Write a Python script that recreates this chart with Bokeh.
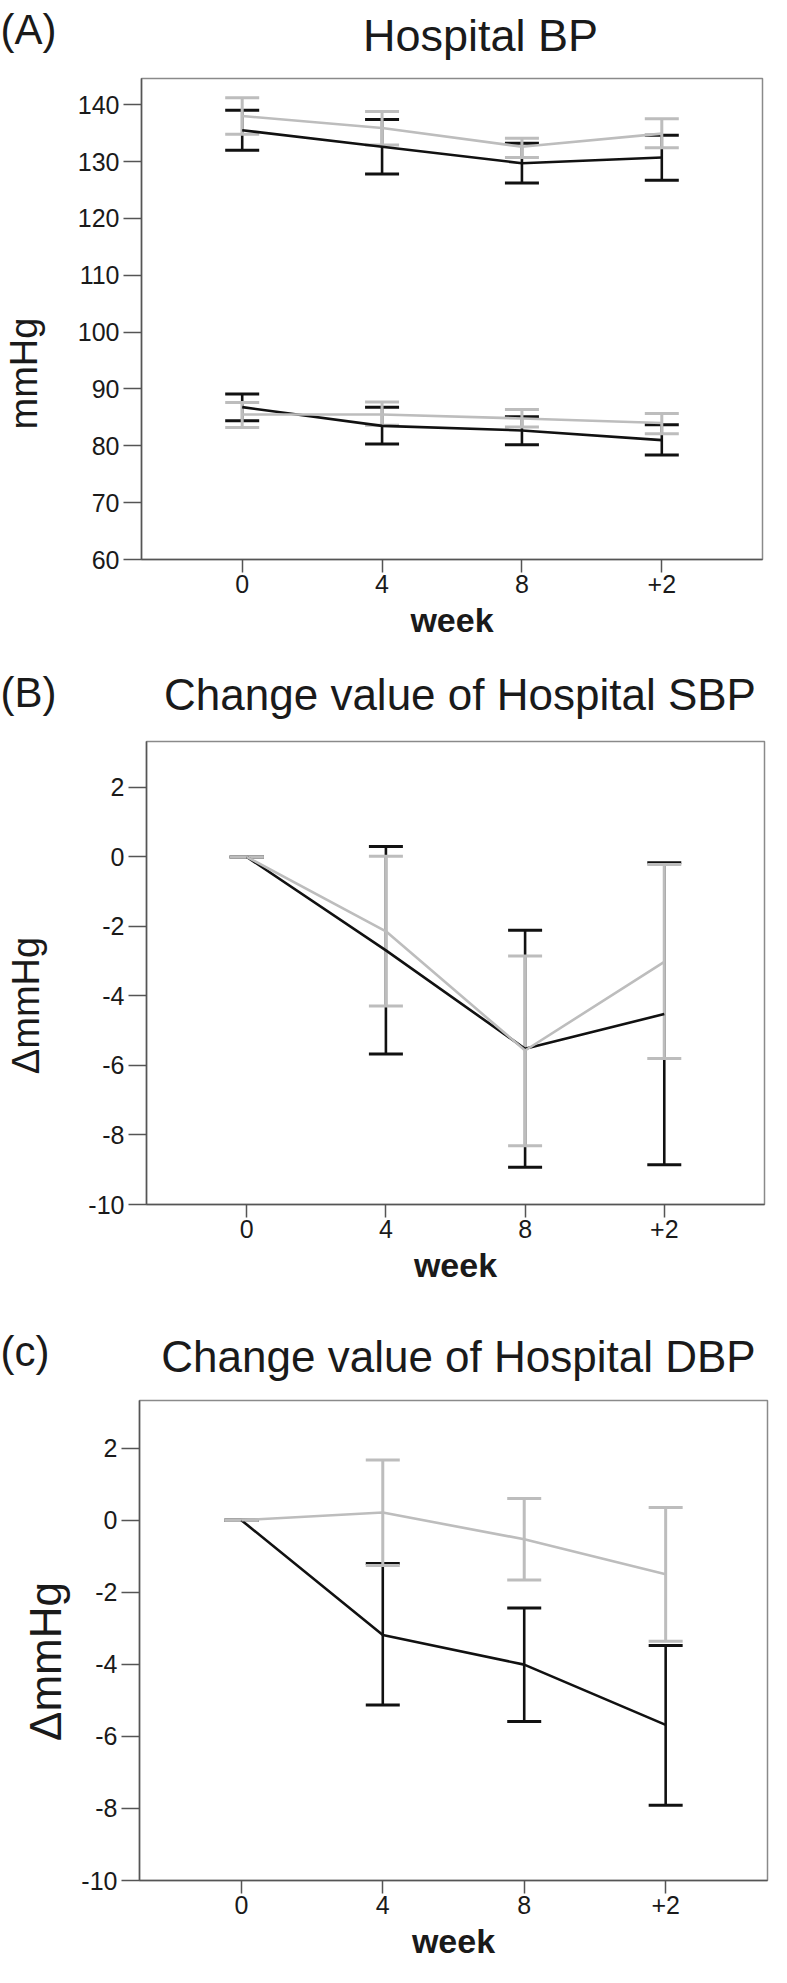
import math
from bokeh.plotting import figure
from bokeh.models import Range1d, FixedTicker, Whisker, TeeHead, ColumnDataSource
from bokeh.layouts import column, row
from bokeh.core.properties import value
from bokeh.embed import file_html
from bokeh.resources import INLINE

# ---------------- data ----------------
weeks = ["0", "4", "8", "+2"]

# Panel A: Hospital BP (SBP upper pair, DBP lower pair)
a_sbp_black_mean = [135.5, 132.6, 129.7, 130.7]
a_sbp_black_lo = [132.0, 127.8, 126.2, 126.7]
a_sbp_black_hi = [139.0, 137.4, 133.2, 134.6]
a_sbp_gray_mean = [138.0, 135.9, 132.6, 134.9]
a_sbp_gray_lo = [134.8, 132.9, 130.7, 132.4]
a_sbp_gray_hi = [141.2, 138.8, 134.1, 137.5]

a_dbp_black_mean = [86.8, 83.5, 82.7, 81.0]
a_dbp_black_lo = [84.4, 80.3, 80.2, 78.4]
a_dbp_black_hi = [89.1, 86.8, 85.1, 83.7]
a_dbp_gray_mean = [85.5, 85.5, 84.8, 84.0]
a_dbp_gray_lo = [83.2, 83.6, 83.3, 82.1]
a_dbp_gray_hi = [87.6, 87.7, 86.4, 85.7]

# Panel B: change of SBP
b_black_mean = [0.0, -2.69, -5.52, -4.52]
b_black_lo = [0.0, -5.67, -8.93, -8.86]
b_black_hi = [0.0, 0.30, -2.11, -0.17]
b_gray_mean = [0.0, -2.14, -5.57, -3.02]
b_gray_lo = [0.0, -4.29, -8.31, -5.80]
b_gray_hi = [0.0, 0.02, -2.85, -0.22]

# Panel C: change of DBP
c_black_mean = [0.0, -3.19, -4.01, -5.68]
c_black_lo = [0.0, -5.13, -5.59, -7.91]
c_black_hi = [0.0, -1.20, -2.44, -3.48]
c_gray_mean = [0.0, 0.21, -0.53, -1.50]
c_gray_lo = [0.0, -1.26, -1.66, -3.36]
c_gray_hi = [0.0, 1.67, 0.60, 0.35]

a_yticks = [60, 70, 80, 90, 100, 110, 120, 130, 140]
bc_yticks = [-10, -8, -6, -4, -2, 0, 2]

titles = ["Hospital BP", "Change value of Hospital SBP", "Change value of Hospital DBP"]
letters = ["(A)", "(B)", "(c)"]
ylabels = ["mmHg", "\u0394mmHg", "\u0394mmHg"]

# ---------------- style ----------------
FONT = "Liberation Sans"
BLACK = "#111111"
GRAY = "#bdbdbd"
AXIS_COL = "#555555"
TXT = "#1a1a1a"
W = 771
xpos = list(range(len(weeks)))


def blank(width, height):
    f = figure(width=width, height=height, output_backend="svg", toolbar_location=None,
               x_range=Range1d(0, width), y_range=Range1d(0, height),
               x_axis_location=None, y_axis_location=None,
               min_border_left=0, min_border_right=0, min_border_top=0, min_border_bottom=0)
    f.frame_align = False
    f.xgrid.visible = False
    f.ygrid.visible = False
    f.outline_line_color = None
    f.background_fill_color = "white"
    f.border_fill_color = "white"
    return f


def header(height, title, title_x, title_y, title_size, letter, letter_y):
    h = blank(W, height)
    h.text(x=[title_x], y=[title_y], text=[title], text_font=value(FONT),
           text_font_size=value(f"{title_size}px"), text_align="center",
           text_baseline="alphabetic", text_color=TXT)
    h.text(x=[0], y=[letter_y], text=[letter], text_font=value(FONT),
           text_font_size=value("42px"), text_align="left",
           text_baseline="alphabetic", text_color=TXT)
    return h


def ytitle(width, height, label, size, lx, ly):
    f = blank(width, height)
    f.text(x=[lx], y=[ly], text=[label], angle=math.pi / 2, text_font=value(FONT),
           text_font_size=value(f"{size}px"), text_align="center",
           text_baseline="middle", text_color=TXT)
    return f


def add_series(p, mean, lo, hi, color, stem_w):
    src = ColumnDataSource(dict(x=xpos, mean=mean, lo=lo, hi=hi))
    w = Whisker(base="x", upper="hi", lower="lo", source=src,
                line_color=color, line_width=stem_w,
                upper_head=TeeHead(size=34, line_color=color, line_width=3),
                lower_head=TeeHead(size=34, line_color=color, line_width=3))
    p.add_layout(w)
    p.line(x="x", y="mean", source=src, line_color=color, line_width=2.6)


def make_panel(width, height, borders, yr, yticks):
    left, right, top, bottom = borders
    p = figure(width=width, height=height, output_backend="svg", toolbar_location=None,
               x_range=Range1d(-0.72, len(weeks) - 1 + 0.72),
               y_range=Range1d(*yr),
               min_border_left=left, min_border_right=right,
               min_border_top=top, min_border_bottom=bottom)
    p.frame_align = False
    p.background_fill_color = "white"
    p.border_fill_color = "white"
    p.xgrid.visible = False
    p.ygrid.visible = False
    p.outline_line_color = "#8a8a8a"
    p.outline_line_width = 1.5

    p.xaxis.ticker = FixedTicker(ticks=xpos)
    p.xaxis.major_label_overrides = {i: w for i, w in enumerate(weeks)}
    p.yaxis.ticker = FixedTicker(ticks=yticks)
    p.yaxis.major_label_overrides = {t: str(t) for t in yticks}

    for ax in (p.xaxis[0], p.yaxis[0]):
        ax.axis_line_color = AXIS_COL
        ax.axis_line_width = 1.5
        ax.major_tick_line_color = AXIS_COL
        ax.major_tick_line_width = 1.5
        ax.major_tick_in = 0
        ax.minor_tick_line_color = None
        ax.major_label_text_font = FONT
        ax.major_label_text_font_size = "25px"
        ax.major_label_text_color = TXT
        ax.axis_label_text_font = FONT
        ax.axis_label_text_color = TXT

    p.xaxis.major_tick_out = 13
    p.xaxis.major_label_standoff = 2
    p.xaxis.axis_label = "week"
    p.xaxis.axis_label_text_font_style = "bold"
    p.xaxis.axis_label_text_font_size = "34px"
    p.xaxis.axis_label_standoff = 5

    p.yaxis.major_tick_out = 18
    p.yaxis.major_label_standoff = 4
    return p


# Panel A
HA = 10 + 481 + 88
ha = header(68, titles[0], 480, 33, 45, letters[0], 39)
la = ytitle(60, HA, ylabels[0], 38, 23, HA - 305)
pa = make_panel(W - 60, HA, (141 - 60, 9, 10, 88), (60, 144.6), a_yticks)
add_series(pa, a_sbp_black_mean, a_sbp_black_lo, a_sbp_black_hi, BLACK, 2.6)
add_series(pa, a_dbp_black_mean, a_dbp_black_lo, a_dbp_black_hi, BLACK, 2.6)
add_series(pa, a_sbp_gray_mean, a_sbp_gray_lo, a_sbp_gray_hi, GRAY, 3)
add_series(pa, a_dbp_gray_mean, a_dbp_gray_lo, a_dbp_gray_hi, GRAY, 3)

# Panel B
HB = 10 + 463 + 90
hb = header(84, titles[1], 459.5, 37, 44, letters[1], 39)
lb = ytitle(60, HB, ylabels[1], 38, 25, HB - 274)
pb = make_panel(W - 60, HB, (146 - 60, 7, 10, 90), (-10, 3.32), bc_yticks)
add_series(pb, b_black_mean, b_black_lo, b_black_hi, BLACK, 2.6)
add_series(pb, b_gray_mean, b_gray_lo, b_gray_hi, GRAY, 3)

# Panel C
HC = 10 + 480 + 86
hc = header(96, titles[2], 458, 34, 44, letters[2], 39)
lc = ytitle(72, HC, ylabels[2], 44, 45, HC - 271)
pc = make_panel(W - 72, HC, (139 - 72, 4, 10, 86), (-10, 3.32), bc_yticks)
add_series(pc, c_black_mean, c_black_lo, c_black_hi, BLACK, 2.6)
add_series(pc, c_gray_mean, c_gray_lo, c_gray_hi, GRAY, 3)

layout = column(ha, row(la, pa, spacing=0), hb, row(lb, pb, spacing=0),
                hc, row(lc, pc, spacing=0), spacing=0)
open("out.html", "w").write(file_html(layout, INLINE))
